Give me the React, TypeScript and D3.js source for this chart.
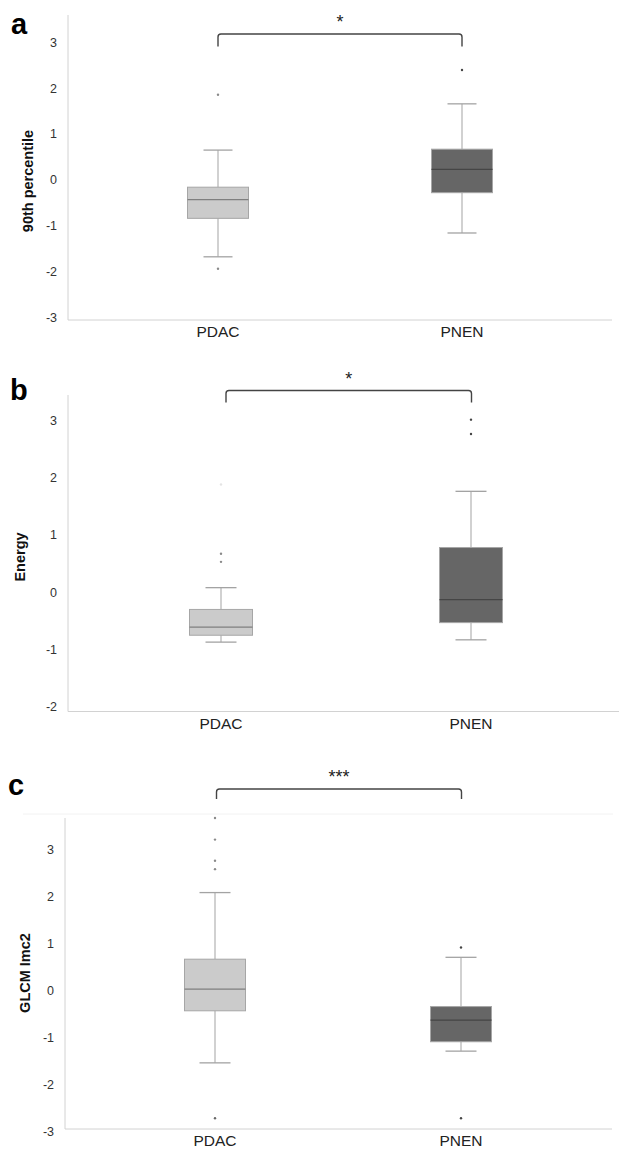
import * as d3 from 'd3';

// ---- data ----
const groups = ['PDAC', 'PNEN'];
const panelLetters = ['a', 'b', 'c'];
const yLabels = ['90th percentile', 'Energy', 'GLCM Imc2'];
const significance = ['*', '*', '***'];

// [lower whisker, Q1, median, Q3, upper whisker] per group
const percentileStats = [
    [-1.68, -0.84, -0.43, -0.16, 0.65],
    [-1.16, -0.28, 0.23, 0.67, 1.66],
];
const percentileOutliers = [[1.86, -1.94], [2.40]];

const energyStats = [
    [-0.87, -0.75, -0.61, -0.30, 0.08],
    [-0.83, -0.53, -0.13, 0.78, 1.76],
];
const energyOutliers = [[0.67, 0.53, 1.88], [3.01, 2.76]];

const glcmStats = [
    [-1.54, -0.43, 0.03, 0.67, 2.09],
    [-1.29, -1.09, -0.63, -0.34, 0.71],
];
const glcmOutliers = [[3.68, 3.22, 2.77, 2.59, -2.72], [0.92, -2.72]];

const percentileTicks = [-3, -2, -1, 0, 1, 2, 3];
const energyTicks = [-2, -1, 0, 1, 2, 3];
const glcmTicks = [-3, -2, -1, 0, 1, 2, 3];

const panelStats = [percentileStats, energyStats, glcmStats];
const panelOutliers = [percentileOutliers, energyOutliers, glcmOutliers];
const panelTicks = [percentileTicks, energyTicks, glcmTicks];
const panelDomains = [[-3.06, 3.6], [-2.08, 3.44], [-2.95, 3.68]];

// ---- layout (pixels) ----
const layout = [
    { axisX: 68, top: 15, bottom: 320, right: 612, centers: [218, 462], boxW: 61, capW: 29,
      letter: [11, 34], yLab: [28, 181], catY: 337, bracket: [218, 462, 34, 46.5] },
    { axisX: 68, top: 395, bottom: 711.5, right: 619, centers: [221, 471], boxW: 63, capW: 31,
      letter: [10, 400], yLab: [20, 557], catY: 729, bracket: [226, 471.5, 390.5, 402.5] },
    { axisX: 65, top: 818, bottom: 1129, right: 612, centers: [215, 461], boxW: 61, capW: 31,
      letter: [8, 795], yLab: [25, 973], catY: 1146, bracket: [216.5, 461.5, 789, 799] },
];

const fills = ['#cbcbcb', '#666666'];
const medianColors = ['#7f7f7f', '#454545'];
const outlierColors = [['#8a8a8a', '#8a8a8a'], ['#8a8a8a', '#8a8a8a', '#e4e4e4'], ['#8a8a8a', '#8a8a8a', '#8a8a8a', '#8a8a8a', '#666']];
const font = '"Liberation Sans", Arial, sans-serif';

function Panel({ i }: { i: number }) {
    const L = layout[i];
    const y = d3.scaleLinear().domain(panelDomains[i]).range([L.bottom, L.top]);
    const x = d3.scalePoint<string>().domain(groups).range(L.centers);
    const [bx0, bx1, by0, by1] = L.bracket;
    const r = 3;
    // bracket path with rounded corners
    const bracketPath = `M${bx0},${by1} L${bx0},${by0 + r} Q${bx0},${by0} ${bx0 + r},${by0} L${bx1 - r},${by0} Q${bx1},${by0} ${bx1},${by0 + r} L${bx1},${by1}`;

    return (
        <g>
            <text x={L.letter[0]} y={L.letter[1]} fontFamily={font} fontWeight="bold" fontSize={29}>{panelLetters[i]}</text>
            {i === 2 && <line x1={23} x2={613} y1={814} y2={814} stroke="#f2f2f2" />}
            {/* axes */}
            <line x1={L.axisX} x2={L.axisX} y1={L.top} y2={L.bottom} stroke="#d2d2d2" />
            <line x1={L.axisX} x2={L.right} y1={L.bottom} y2={L.bottom} stroke="#d2d2d2" />
            {panelTicks[i].map(t => (
                <text key={t} x={L.axisX - 11} y={y(t)} dy="0.35em" textAnchor="end" fontFamily={font} fontSize={12.5} fill="#333">{t}</text>
            ))}
            <text transform={`translate(${L.yLab[0]},${L.yLab[1]}) rotate(-90)`} dy="0.35em" textAnchor="middle"
                fontFamily={font} fontWeight="bold" fontSize={14.5} fill="#111">{yLabels[i]}</text>
            {groups.map((g, gi) => {
                const cx = x(g) as number;
                const [lo, q1, med, q3, hi] = panelStats[i][gi];
                return (
                    <g key={g}>
                        <line x1={cx} x2={cx} y1={y(hi)} y2={y(q3)} stroke="#a3a3a3" />
                        <line x1={cx} x2={cx} y1={y(q1)} y2={y(lo)} stroke="#a3a3a3" />
                        <line x1={cx - L.capW / 2} x2={cx + L.capW / 2} y1={y(hi)} y2={y(hi)} stroke="#a3a3a3" strokeWidth={1.3} />
                        <line x1={cx - L.capW / 2} x2={cx + L.capW / 2} y1={y(lo)} y2={y(lo)} stroke="#a3a3a3" strokeWidth={1.3} />
                        <rect x={cx - L.boxW / 2} y={y(q3)} width={L.boxW} height={y(q1) - y(q3)}
                            fill={fills[gi]} stroke="#a6a6a6" />
                        <line x1={cx - L.boxW / 2} x2={cx + L.boxW / 2} y1={y(med)} y2={y(med)} stroke={medianColors[gi]} strokeWidth={1.2} />
                        {panelOutliers[i][gi].map((v, k) => (
                            <circle key={k} cx={cx} cy={y(v)} r={1.2}
                                fill={gi === 0 ? outlierColors[i][k] : '#444'} />
                        ))}
                        <text x={cx} y={L.catY} textAnchor="middle" fontFamily={font} fontSize={15.5} fill="#222">{g}</text>
                    </g>
                );
            })}
            <path d={bracketPath} fill="none" stroke="#444" strokeWidth={1.4} />
            <text x={(bx0 + bx1) / 2} y={by0 - 6} textAnchor="middle" fontFamily={font} fontSize={18} fill="#222">{significance[i]}</text>
        </g>
    );
}

export default function App() {
    return (
        <svg width={619} height={1149} style={{ position: 'absolute', left: 0, top: 0, background: '#fff' }}>
            {layout.map((_, i) => <Panel key={i} i={i} />)}
        </svg>
    );
}
